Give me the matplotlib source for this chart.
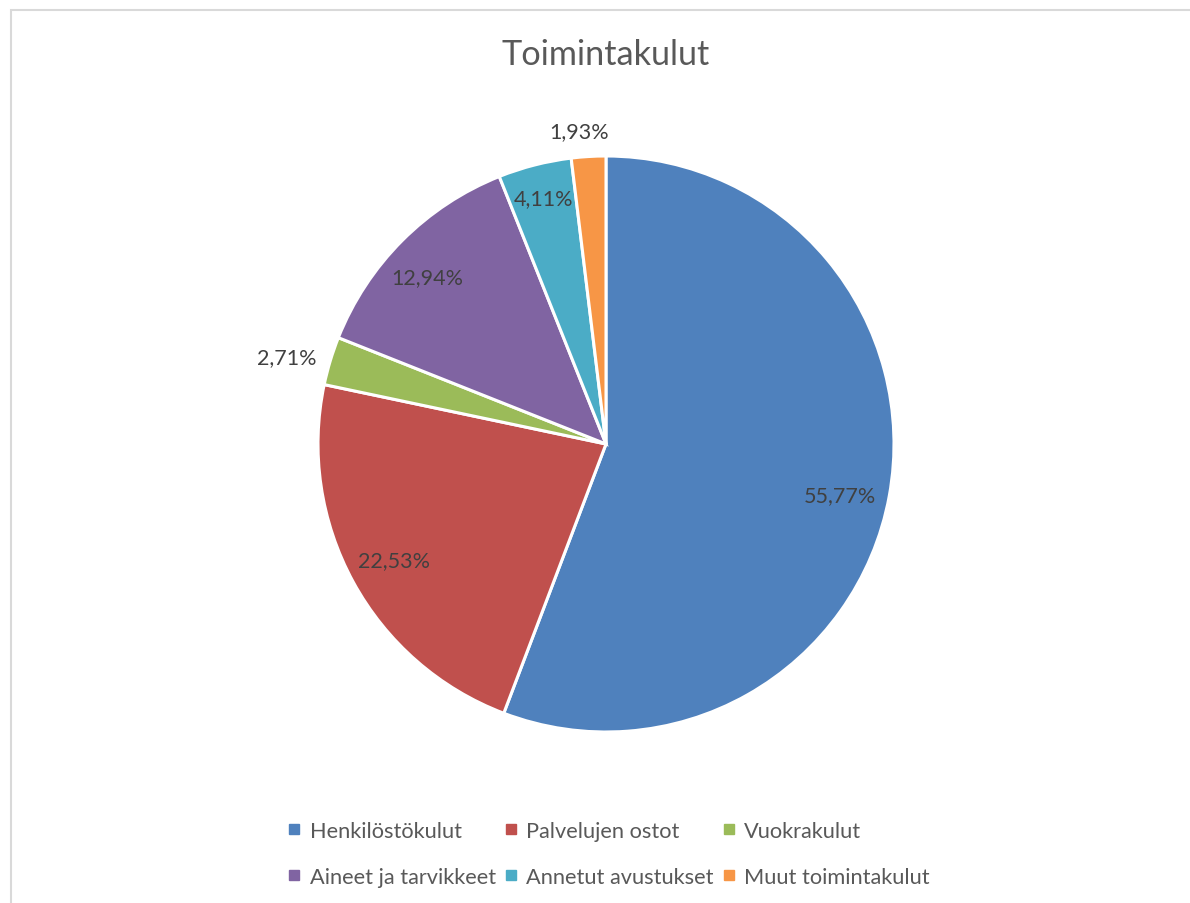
import numpy as np
import matplotlib.pyplot as plt
from matplotlib.lines import Line2D
from matplotlib.patches import Rectangle

plt.rcParams['font.family'] = ['Lato', 'DejaVu Sans']

categories = ['Henkilöstökulut', 'Palvelujen ostot', 'Vuokrakulut',
              'Aineet ja tarvikkeet', 'Annetut avustukset', 'Muut toimintakulut']
shares = [55.77, 22.53, 2.71, 12.94, 4.11, 1.93]
colors = ['#4F81BD', '#C0504D', '#9BBB59', '#8064A2', '#4BACC6', '#F79646']
# label placement (distance in radii, angle tweak in degrees), like Excel "best fit"
label_dist = [0.83, 0.84, 1.15, 0.85, 0.88, 1.09]
label_turn = [-2, 0, 1.6, 2, 0, 1.5]

fig = plt.figure(figsize=(11.9, 9.04), dpi=100)
fig.patches.append(Rectangle((11 / 1190, -0.1), 1.2, 1.1 - 11 / 904, transform=fig.transFigure,
                             fill=False, edgecolor='#D9D9D9', linewidth=1.5))

ax = fig.add_axes([318 / 1190, 171 / 904, 576 / 1190, 576 / 904])
wedges, _ = ax.pie(shares, colors=colors, startangle=90, counterclock=False,
                   wedgeprops=dict(edgecolor='white', linewidth=2.2))
ax.set_xlim(-1, 1)
ax.set_ylim(-1, 1)
ax.set_aspect('equal')
ax.axis('off')

for w, v, d, t in zip(wedges, shares, label_dist, label_turn):
    ang = np.deg2rad((w.theta1 + w.theta2) / 2 + t)
    ax.text(d * np.cos(ang), d * np.sin(ang), f'{v:.2f}%'.replace('.', ','),
            ha='center', va='center', fontsize=15.5, color='#404040')

fig.text(606 / 1190, 1 - 55 / 904, 'Toimintakulut', ha='center', va='center',
         fontsize=24.7, color='#595959')

order = [0, 3, 1, 4, 2, 5]
handles = [Line2D([], [], marker='s', linestyle='none', markersize=7.5,
                  markerfacecolor=colors[i], markeredgecolor=colors[i]) for i in order]
labels = [categories[i] for i in order]
fig.legend(handles, labels, ncol=3, loc='center', bbox_to_anchor=(609 / 1190, 1 - 855 / 904),
           frameon=False, fontsize=15.7, labelcolor='#595959', handlelength=0.6,
           handletextpad=0.4, columnspacing=0.4, labelspacing=1.2)

fig.savefig('out.png', dpi=100)
